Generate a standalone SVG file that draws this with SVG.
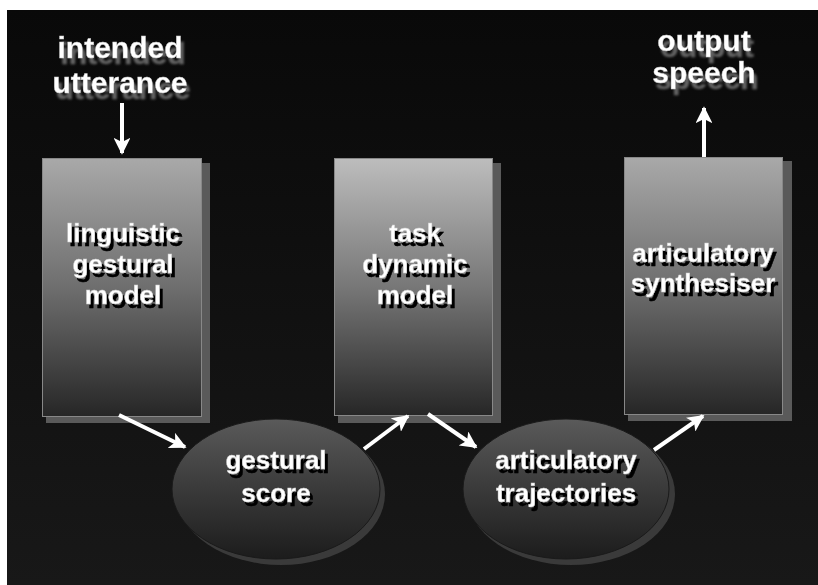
<svg xmlns="http://www.w3.org/2000/svg" width="818" height="585" viewBox="0 0 818 585">
<defs>
<linearGradient id="bg" x1="0" y1="0" x2="0" y2="1">
<stop offset="0" stop-color="#090909"/>
<stop offset="1" stop-color="#181818"/>
</linearGradient>
<linearGradient id="boxg" x1="0" y1="0" x2="0" y2="1">
<stop offset="0" stop-color="#a9a9a9"/>
<stop offset="0.5" stop-color="#6e6e6e"/>
<stop offset="1" stop-color="#262626"/>
</linearGradient>
<linearGradient id="boxg2" x1="0" y1="0" x2="0" y2="1">
<stop offset="0" stop-color="#bdbdbd"/>
<stop offset="0.5" stop-color="#777"/>
<stop offset="1" stop-color="#262626"/>
</linearGradient>
<linearGradient id="ellg" x1="0" y1="0" x2="0" y2="1">
<stop offset="0" stop-color="#5a5a5a"/>
<stop offset="0.5" stop-color="#3a3a3a"/>
<stop offset="1" stop-color="#1c1c1c"/>
</linearGradient>
<filter id="ts" x="-20%" y="-30%" width="150%" height="180%">
<feDropShadow dx="3" dy="4" stdDeviation="0.7" flood-color="#000" flood-opacity="1"/>
</filter>
<filter id="ts2" x="-20%" y="-30%" width="150%" height="180%">
<feDropShadow dx="3" dy="6" stdDeviation="1.2" flood-color="#777" flood-opacity="0.8"/>
</filter>
<marker id="ah" viewBox="0 0 10 10" refX="9" refY="5" markerWidth="4.2" markerHeight="4.2" orient="auto" markerUnits="strokeWidth">
<path d="M0,0 L10,5 L0,10 L2.5,5 z" fill="#fff"/>
</marker>
<style>
.t{font-family:"Liberation Sans",Arial,sans-serif;font-weight:bold;fill:#fff;text-anchor:middle;stroke:#ccc;stroke-width:0.4}
.in{font-size:26px;filter:url(#ts)}
.out{font-size:30px;filter:url(#ts2)}
.shadow{fill:#5a5a5a}
.edge{fill:none;stroke:#888;stroke-width:1}
.ar{stroke:#fff;stroke-width:4;fill:none;marker-end:url(#ah)}
</style>
</defs>
<rect x="0" y="0" width="818" height="585" fill="#fff"/>
<rect x="7" y="10" width="811" height="575" fill="url(#bg)"/>

<g id="intended-utterance">
<text class="t out" x="120" y="58">intended</text>
<text class="t out" x="120" y="93">utterance</text>
</g>
<g id="output-speech">
<text class="t out" x="704" y="51">output</text>
<text class="t out" x="704" y="83">speech</text>
</g>

<g id="linguistic-gestural-model">
<rect class="shadow" x="46" y="163" width="164" height="260"/>
<rect x="42" y="158" width="160" height="259" fill="url(#boxg)"/>
<rect class="edge" x="42.5" y="158.5" width="159" height="258"/>
<text class="t in" x="123" y="242">linguistic</text>
<text class="t in" x="123" y="273">gestural</text>
<text class="t in" x="123" y="304">model</text>
</g>

<g id="task-dynamic-model">
<rect class="shadow" x="338" y="163" width="163" height="260"/>
<rect x="334" y="158" width="159" height="258" fill="url(#boxg2)"/>
<rect class="edge" x="334.5" y="158.5" width="158" height="257"/>
<text class="t in" x="415" y="242">task</text>
<text class="t in" x="415" y="273">dynamic</text>
<text class="t in" x="415" y="304">model</text>
</g>

<g id="articulatory-synthesiser">
<rect class="shadow" x="628" y="161" width="164" height="260"/>
<rect x="624" y="157" width="159" height="258" fill="url(#boxg)"/>
<rect class="edge" x="624.5" y="157.5" width="158" height="257"/>
<text class="t in" x="703" y="262">articulatory</text>
<text class="t in" x="703" y="292">synthesiser</text>
</g>

<g id="gestural-score">
<ellipse cx="281" cy="494" rx="104" ry="71" fill="#3a3a3a"/>
<ellipse cx="276" cy="489" rx="104" ry="70" fill="url(#ellg)" stroke="#1a1a1a" stroke-width="1"/>
<text class="t in" x="276" y="469">gestural</text>
<text class="t in" x="276" y="502">score</text>
</g>

<g id="articulatory-trajectories">
<ellipse cx="571" cy="494" rx="104" ry="71" fill="#3a3a3a"/>
<ellipse cx="566" cy="489" rx="103" ry="70" fill="url(#ellg)" stroke="#1a1a1a" stroke-width="1"/>
<text class="t in" x="566" y="469">articulatory</text>
<text class="t in" x="566" y="502">trajectories</text>
</g>

<g id="connectors">
<line class="ar" x1="122" y1="103" x2="122" y2="153"/>
<line class="ar" x1="704" y1="157" x2="704" y2="108"/>
<line class="ar" x1="119" y1="415" x2="185" y2="447"/>
<line class="ar" x1="364" y1="449" x2="408" y2="416"/>
<line class="ar" x1="428" y1="414" x2="476" y2="447"/>
<line class="ar" x1="654" y1="450" x2="703" y2="416"/>
</g>
</svg>
